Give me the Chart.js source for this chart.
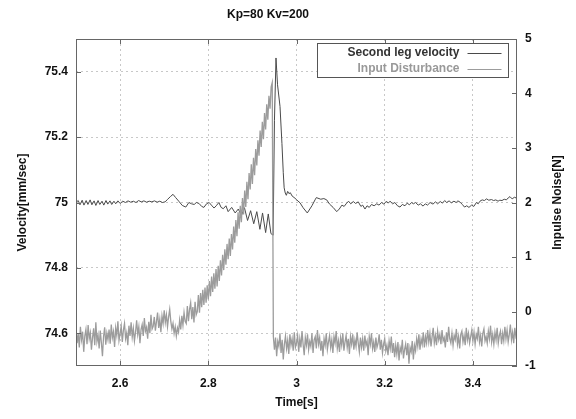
<!DOCTYPE html>
<html>
<head>
<meta charset="utf-8">
<script src="https://cdn.jsdelivr.net/npm/chart.js@4.4.1/dist/chart.umd.min.js"></script>
<style>
  html, body { margin: 0; padding: 0; background: #fff; }
  canvas { display: block; }
</style>
</head>
<body>
<canvas id="kpChart" width="576" height="419"></canvas>
<script>
// Kp=80 Kv=200 -- velocity response vs injected disturbance

const chartTitle = 'Kp=80 Kv=200';
const seriesNames = ['Second leg velocity', 'Input Disturbance'];

const xTicks = [2.6, 2.8, 3, 3.2, 3.4];
const velocityTicks = [74.6, 74.8, 75, 75.2, 75.4];
const noiseTicks = [-1, 0, 1, 2, 3, 4, 5];

// second leg velocity [mm/sec], (time, value) pairs
const velocityPoints = [
    [2.500, 75.000], [2.505, 75.006], [2.509, 74.993], [2.514, 75.007], [2.518, 74.992],
    [2.523, 75.006], [2.527, 74.994], [2.532, 75.008], [2.536, 74.993], [2.541, 75.005],
    [2.545, 74.991], [2.550, 75.006], [2.554, 74.994], [2.559, 75.004], [2.563, 74.992],
    [2.568, 75.006], [2.572, 74.995], [2.577, 75.005], [2.581, 74.994], [2.586, 75.004],
    [2.590, 74.996], [2.595, 75.005], [2.600, 74.997], [2.606, 75.004], [2.612, 75.000],
    [2.618, 75.005], [2.624, 75.001], [2.630, 75.004], [2.636, 75.000], [2.642, 75.006],
    [2.648, 75.002], [2.654, 75.005], [2.660, 75.001], [2.666, 75.004], [2.672, 75.002],
    [2.678, 75.005], [2.684, 75.001], [2.690, 75.004], [2.696, 75.000], [2.702, 75.002],
    [2.708, 75.010], [2.714, 75.018], [2.720, 75.025], [2.726, 75.015], [2.733, 75.004],
    [2.741, 74.991], [2.749, 74.986], [2.756, 75.000], [2.762, 74.996], [2.768, 74.994],
    [2.773, 75.000], [2.779, 74.997], [2.785, 74.988], [2.790, 74.985], [2.796, 74.996],
    [2.802, 75.000], [2.807, 74.992], [2.813, 74.983], [2.818, 74.990], [2.824, 75.000],
    [2.829, 74.985], [2.834, 74.981], [2.840, 74.990], [2.845, 74.972], [2.853, 74.985],
    [2.861, 74.968], [2.868, 74.980], [2.875, 74.960], [2.882, 74.984], [2.889, 74.945],
    [2.896, 74.975], [2.903, 74.935], [2.910, 74.972], [2.917, 74.918], [2.923, 74.968],
    [2.930, 74.908], [2.936, 74.965], [2.942, 74.905], [2.947, 74.900], [2.950, 75.250],
    [2.9535, 75.442], [2.957, 75.360], [2.9626, 75.294], [2.967, 75.180], [2.970, 75.091],
    [2.972, 75.045], [2.9745, 75.029], [2.977, 75.022], [2.980, 75.034], [2.983, 75.027],
    [2.986, 75.030], [2.990, 75.020], [2.9966, 75.013], [3.0004, 75.008], [3.008, 74.999],
    [3.015, 74.984], [3.0245, 74.968], [3.035, 74.990], [3.042, 75.008], [3.045, 75.015],
    [3.055, 75.010], [3.062, 75.012], [3.0685, 75.008], [3.075, 74.995], [3.083, 74.985],
    [3.0912, 74.972], [3.097, 74.980], [3.103, 74.992], [3.108, 74.988], [3.1137, 74.998],
    [3.118, 75.004], [3.123, 74.996], [3.1288, 75.003], [3.134, 74.997], [3.140, 75.002],
    [3.146, 74.988], [3.150, 74.992], [3.1553, 74.980], [3.160, 74.990], [3.165, 74.985],
    [3.170, 74.994], [3.176, 74.990], [3.182, 74.996], [3.187, 74.992], [3.193, 75.000],
    [3.198, 74.995], [3.204, 75.004], [3.208, 74.998], [3.212, 75.004], [3.218, 74.996],
    [3.223, 75.000], [3.229, 74.990], [3.2347, 74.986], [3.240, 74.994], [3.246, 74.990],
    [3.251, 74.998], [3.256, 74.993], [3.261, 75.000], [3.265, 74.996], [3.270, 75.000],
    [3.276, 74.992], [3.281, 74.996], [3.287, 74.989], [3.292, 74.996], [3.297, 74.992],
    [3.303, 75.000], [3.3095, 74.995], [3.315, 75.002], [3.320, 74.996], [3.326, 75.003],
    [3.331, 74.998], [3.336, 75.006], [3.3406, 75.000], [3.346, 75.005], [3.351, 74.999],
    [3.357, 75.004], [3.362, 75.000], [3.366, 75.005], [3.371, 75.001], [3.376, 74.994],
    [3.381, 74.986], [3.386, 74.990], [3.391, 74.985], [3.397, 74.992], [3.402, 74.988],
    [3.408, 75.000], [3.412, 74.996], [3.416, 75.004], [3.421, 75.008], [3.426, 75.006],
    [3.431, 75.011], [3.436, 75.007], [3.442, 75.009], [3.447, 75.006], [3.452, 75.008],
    [3.457, 75.004], [3.461, 75.007], [3.466, 75.006], [3.471, 75.010], [3.476, 75.008],
    [3.480, 75.014], [3.484, 75.018], [3.489, 75.011], [3.494, 75.016], [3.500, 75.013]
];

// input disturbance [N], sampled every 2.5 ms from 2.5 s (one row = 25 ms)
const noiseStart = 2.5;
const noiseStep = 0.0025;
const noiseValues = [
    -0.30, -0.58, -0.41, -0.66, -0.28, -0.52, -0.37, -0.74, -0.45, -0.33,
    -0.60, -0.25, -0.50, -0.39, -0.70, -0.48, -0.31, -0.62, -0.20, -0.55,
    -0.43, -0.68, -0.35, -0.57, -0.82, -0.46, -0.29, -0.61, -0.40, -0.52,
    -0.33, -0.59, -0.24, -0.48, -0.37, -0.65, -0.30, -0.44, -0.18, -0.53,
    -0.41, -0.27, -0.56, -0.34, -0.22, -0.50, -0.39, -0.62, -0.26, -0.45,
    -0.20, -0.47, -0.31, -0.54, -0.38, -0.16, -0.42, -0.28, -0.58, -0.33,
    -0.24, -0.45, -0.12, -0.36, -0.29, -0.50, -0.19, -0.40, -0.06, -0.32,
    -0.27, -0.10, -0.35, -0.18, -0.02, -0.30, -0.14, -0.38, -0.08, -0.22,
    0.02, -0.20, -0.06, -0.28, -0.10, 0.04, -0.18, -0.32, -0.22, -0.40,
    -0.28, -0.45, -0.30, -0.38, -0.16, -0.33, -0.08, -0.25, -0.02, -0.18,
    -0.22, 0.10, -0.18, 0.04, 0.16, -0.14, 0.08, -0.20, 0.18, -0.06,
    0.00, 0.30, -0.02, 0.34, 0.08, 0.40, 0.12, 0.44, 0.16, 0.48,
    0.22, 0.56, 0.28, 0.64, 0.36, 0.70, 0.42, 0.78, 0.46, 0.84,
    0.56, 0.94, 0.66, 1.04, 0.76, 1.14, 0.86, 1.24, 0.96, 1.34,
    1.02, 1.42, 1.14, 1.56, 1.26, 1.68, 1.38, 1.82, 1.52, 1.94,
    1.64, 2.08, 1.78, 2.22, 1.92, 2.38, 2.06, 2.54, 2.24, 2.70,
    2.34, 2.82, 2.50, 2.98, 2.68, 3.14, 2.86, 3.32, 3.02, 3.48,
    3.16, 3.64, 3.34, 3.80, 3.52, 3.96, 3.72, 4.12, 4.20, -0.46,
    -0.70, -0.48, -0.82, -0.55, -0.64, -0.40, -0.76, -0.52, -0.88, -0.60,
    -0.45, -0.68, -0.53, -0.78, -0.42, -0.62, -0.50, -0.72, -0.38, -0.66,
    -0.58, -0.44, -0.74, -0.50, -0.66, -0.36, -0.60, -0.80, -0.48, -0.62,
    -0.42, -0.70, -0.55, -0.64, -0.40, -0.76, -0.52, -0.46, -0.68, -0.34,
    -0.60, -0.48, -0.72, -0.54, -0.82, -0.50, -0.62, -0.40, -0.70, -0.56,
    -0.44, -0.66, -0.52, -0.76, -0.46, -0.58, -0.36, -0.68, -0.54, -0.74,
    -0.48, -0.62, -0.40, -0.72, -0.56, -0.44, -0.66, -0.50, -0.78, -0.46,
    -0.60, -0.42, -0.70, -0.52, -0.64, -0.38, -0.58, -0.74, -0.48, -0.66,
    -0.50, -0.72, -0.44, -0.62, -0.54, -0.80, -0.46, -0.60, -0.40, -0.68,
    -0.56, -0.74, -0.48, -0.66, -0.58, -0.42, -0.70, -0.52, -0.76, -0.60,
    -0.50, -0.72, -0.62, -0.80, -0.54, -0.68, -0.46, -0.76, -0.58, -0.84,
    -0.62, -0.78, -0.56, -0.90, -0.66, -0.74, -0.52, -0.86, -0.70, -0.60,
    -0.80, -0.58, -0.96, -0.66, -0.74, -0.54, -0.88, -0.62, -0.72, -0.50,
    -0.64, -0.42, -0.70, -0.50, -0.60, -0.38, -0.66, -0.46, -0.58, -0.34,
    -0.56, -0.40, -0.64, -0.46, -0.30, -0.58, -0.44, -0.62, -0.36, -0.52,
    -0.42, -0.60, -0.34, -0.54, -0.48, -0.66, -0.38, -0.56, -0.28, -0.50,
    -0.58, -0.40, -0.62, -0.44, -0.52, -0.32, -0.60, -0.46, -0.68, -0.42,
    -0.36, -0.56, -0.44, -0.62, -0.30, -0.52, -0.40, -0.58, -0.46, -0.34,
    -0.54, -0.38, -0.60, -0.42, -0.50, -0.28, -0.56, -0.44, -0.64, -0.40,
    -0.32, -0.54, -0.46, -0.58, -0.36, -0.50, -0.26, -0.56, -0.42, -0.60,
    -0.38, -0.52, -0.30, -0.58, -0.44, -0.36, -0.60, -0.40, -0.54, -0.28,
    -0.50, -0.34, -0.56, -0.42, -0.24, -0.52, -0.38, -0.58, -0.30, -0.46,
    -0.40
];

const velocityColor = '#4a4a4a';
const noiseColor = '#9c9c9c';
const FONT = '"Liberation Sans", Arial, sans-serif';

const fmt = v => String(+v.toFixed(2));

// gnuplot-ish extras: frame, inward ticks, boxed legend, title, y2 label
const gnuplotDecor = {
    id: 'gnuplotDecor',
    afterDatasetsDraw(chart) {
        const { ctx, chartArea: a, scales } = chart;
        ctx.save();
        ctx.strokeStyle = '#666';
        ctx.lineWidth = 1;
        ctx.setLineDash([]);
        ctx.strokeRect(a.left + 0.5, a.top + 0.5, a.right - a.left - 1, a.bottom - a.top - 1);

        ctx.beginPath();
        xTicks.forEach(t => {
            const px = Math.round(scales.x.getPixelForValue(t)) + 0.5;
            ctx.moveTo(px, a.bottom); ctx.lineTo(px, a.bottom - 5);
            ctx.moveTo(px, a.top); ctx.lineTo(px, a.top + 5);
        });
        noiseTicks.forEach(t => {
            const py = Math.round(scales.y1.getPixelForValue(t)) + 0.5;
            ctx.moveTo(a.right, py); ctx.lineTo(a.right - 5, py);
        });
        velocityTicks.forEach(t => {
            const py = Math.round(scales.y.getPixelForValue(t)) + 0.5;
            ctx.moveTo(a.left, py); ctx.lineTo(a.left + 5, py);
        });
        ctx.stroke();

        // legend box
        const bx = a.right - 199.5, by = a.top + 4.5, bw = 191, bh = 34;
        ctx.fillStyle = '#fff';
        ctx.fillRect(bx, by, bw, bh);
        ctx.strokeStyle = '#555';
        ctx.strokeRect(bx, by, bw, bh);
        ctx.font = 'bold 12px ' + FONT;
        ctx.textAlign = 'right';
        ctx.textBaseline = 'middle';
        const rows = [
            { label: seriesNames[0], text: '#333', line: velocityColor },
            { label: seriesNames[1], text: '#999', line: noiseColor }
        ];
        rows.forEach((r, i) => {
            const y = by + 9.5 + i * 16;
            ctx.fillStyle = r.text;
            ctx.fillText(r.label, bx + 142, y);
            ctx.strokeStyle = r.line;
            ctx.beginPath();
            ctx.moveTo(bx + 150, Math.round(y) + 0.5);
            ctx.lineTo(bx + 184, Math.round(y) + 0.5);
            ctx.stroke();
        });
        ctx.restore();
    },
    afterDraw(chart) {
        const { ctx, chartArea: a } = chart;
        ctx.save();
        ctx.fillStyle = '#111';
        ctx.font = 'bold 12px ' + FONT;
        ctx.textAlign = 'center';
        ctx.textBaseline = 'middle';
        ctx.fillText(chartTitle, 268, 15);

        ctx.translate(558, (a.top + a.bottom) / 2);
        ctx.rotate(-Math.PI / 2);
        ctx.fillText('Inpulse Noise[N]', 0, 0);
        ctx.restore();
    }
};

new Chart(document.getElementById('kpChart'), {
    type: 'line',
    data: {
        datasets: [
            {
                label: seriesNames[0],
                data: velocityPoints.map(([t, v]) => ({ x: t, y: v })),
                yAxisID: 'y',
                borderColor: velocityColor,
                borderWidth: 1,
                pointRadius: 0,
                tension: 0,
                order: 1
            },
            {
                label: seriesNames[1],
                data: noiseValues.map((v, i) => ({ x: noiseStart + i * noiseStep, y: v })),
                yAxisID: 'y1',
                borderColor: noiseColor,
                borderWidth: 1.3,
                pointRadius: 0,
                tension: 0,
                order: 0
            }
        ]
    },
    options: {
        responsive: false,
        animation: false,
        layout: { padding: { top: 39, left: 0, right: 0, bottom: 0 } },
        plugins: {
            legend: { display: false },
            tooltip: { enabled: false },
            title: { display: false }
        },
        scales: {
            x: {
                type: 'linear',
                min: 2.5,
                max: 3.5,
                afterBuildTicks: s => { s.ticks = xTicks.map(v => ({ value: v })); },
                afterFit: s => { s.height = 53; },
                grid: { color: '#c8c8c8', drawTicks: false, borderDash: [2, 3] },
                border: { display: false, dash: [2, 3] },
                ticks: {
                    padding: 10,
                    maxRotation: 0,
                    color: '#111',
                    font: { family: FONT, size: 12, weight: 'bold' },
                    callback: fmt
                },
                title: {
                    display: true,
                    text: 'Time[s]',
                    color: '#111',
                    font: { family: FONT, size: 12, weight: 'bold' },
                    padding: { top: 0, bottom: 9 }
                }
            },
            y: {
                position: 'left',
                min: 74.5,
                max: 75.5,
                afterBuildTicks: s => { s.ticks = velocityTicks.map(v => ({ value: v })); },
                afterFit: s => { s.width = 76; },
                grid: { color: '#c8c8c8', drawTicks: false, borderDash: [2, 3] },
                border: { display: false, dash: [2, 3] },
                ticks: {
                    padding: 8,
                    color: '#111',
                    font: { family: FONT, size: 12, weight: 'bold' },
                    callback: fmt
                },
                title: {
                    display: true,
                    text: 'Velocity[mm/sec]',
                    color: '#111',
                    font: { family: FONT, size: 12, weight: 'bold' },
                    padding: { top: 15, bottom: 0 }
                }
            },
            y1: {
                position: 'right',
                min: -1,
                max: 5,
                afterBuildTicks: s => { s.ticks = noiseTicks.map(v => ({ value: v })); },
                afterFit: s => { s.width = 59; },
                grid: { display: false, drawTicks: false },
                border: { display: false },
                ticks: {
                    padding: 8,
                    color: '#111',
                    font: { family: FONT, size: 12, weight: 'bold' },
                    callback: fmt
                }
            }
        }
    },
    plugins: [gnuplotDecor]
});
</script>
</body>
</html>
